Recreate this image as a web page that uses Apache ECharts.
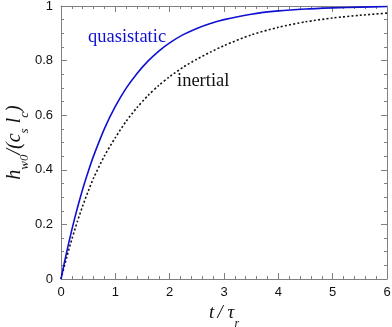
<!DOCTYPE html>
<html><head><meta charset="utf-8">
<script src="https://cdn.jsdelivr.net/npm/echarts@6/dist/echarts.min.js"></script>
<style>html,body{margin:0;padding:0;background:#fff}#c{width:392px;height:327px}</style>
</head><body><div id="c"></div>
<script>
const tValues = [0,0.1,0.2,0.3,0.4,0.5,0.6,0.8,1.0,1.2,1.4,1.6,1.8,2.0,2.25,2.5,2.75,3.0,3.5,4.0,4.5,5.0,5.5,6.0];
const quasistatic = [0,0.095,0.181,0.259,0.330,0.393,0.451,0.551,0.632,0.699,0.753,0.798,0.835,0.865,0.895,0.918,0.936,0.950,0.970,0.982,0.989,0.993,0.996,0.998];
const inertial = [0,0.076,0.146,0.210,0.268,0.321,0.370,0.451,0.518,0.578,0.628,0.672,0.709,0.741,0.776,0.805,0.831,0.855,0.894,0.922,0.942,0.956,0.966,0.974];
const xTicks = [0,1,2,3,4,5,6];
const yTicks = [0,0.2,0.4,0.6,0.8,1];

const chart = echarts.init(document.getElementById('c'), null, {renderer:'canvas'});
const axisCol = '#808080';
const grid = {left:61, right:5, top:6, bottom:48, outerBoundsMode:'none', containLabel:false};
function pair(xs, ys){ return xs.map((x,i)=>[x, ys[i]]); }
const baseX = {type:'value', min:xTicks[0], max:xTicks[xTicks.length-1], interval:1,
  axisLine:{show:true, onZero:false, lineStyle:{color:axisCol, width:1}},
  axisTick:{show:true, inside:true, length:6, lineStyle:{color:axisCol}},
  minorTick:{show:true, splitNumber:5, length:3, lineStyle:{color:axisCol}},
  splitLine:{show:false}};
const baseY = {type:'value', min:yTicks[0], max:yTicks[yTicks.length-1], interval:0.2,
  axisLine:{show:true, onZero:false, lineStyle:{color:axisCol, width:1}},
  axisTick:{show:true, inside:true, length:6, lineStyle:{color:axisCol}},
  minorTick:{show:true, splitNumber:4, length:3, lineStyle:{color:axisCol}},
  splitLine:{show:false}};
const labelFont = {color:'#111', fontSize:13, fontFamily:'Liberation Sans, Arial, sans-serif'};
chart.setOption({
  animation:false,
  grid: grid,
  xAxis:[
    Object.assign({}, baseX, {position:'bottom',
      axisLabel:Object.assign({margin:7, formatter:v=>String(v)}, labelFont),
      name:'{m|t} {m|/ τ}{s|r}', nameLocation:'middle', nameGap:21,
      nameTextStyle:{rich:{
        m:{fontFamily:'Liberation Serif, Times New Roman, serif', fontStyle:'italic', fontSize:19, color:'#111', lineHeight:20, verticalAlign:'top'},
        s:{fontFamily:'Liberation Serif, Times New Roman, serif', fontStyle:'italic', fontSize:12, color:'#111', lineHeight:20, verticalAlign:'top', padding:[14,0,0,0]}
      }}}),
    Object.assign({}, baseX, {position:'top', axisLabel:{show:false}})
  ],
  yAxis:[
    Object.assign({}, baseY, {position:'left',
      axisLabel:Object.assign({margin:8, formatter:v=>String(v)}, labelFont),
      name:'{m|h}{s|w0}{m|/(c}{s|s}{m| l}{s|c}{m|)}', nameLocation:'middle', nameGap:34, nameRotate:90,
      nameMoveOverlap:false,
      nameTextStyle:{rich:{
        m:{fontFamily:'Liberation Serif, Times New Roman, serif', fontStyle:'italic', fontSize:20, color:'#111', lineHeight:22, verticalAlign:'top'},
        s:{fontFamily:'Liberation Serif, Times New Roman, serif', fontStyle:'italic', fontSize:13, color:'#111', lineHeight:22, verticalAlign:'top', padding:[13,0,0,0]}
      }}}),
    Object.assign({}, baseY, {position:'right', axisLabel:{show:false}})
  ],
  series:[
    {type:'line', name:'quasistatic', data:pair(tValues, quasistatic), showSymbol:false, smooth:0.25,
     lineStyle:{color:'#1010d0', width:1.6}, z:3},
    {type:'line', name:'inertial', data:pair(tValues, inertial), showSymbol:false, smooth:0.25,
     lineStyle:{color:'#111', width:1.6, type:[2,2.2]}, z:2}
  ],
  graphic:[
    {type:'text', left:88, top:28, style:{text:'quasistatic', fill:'#1010d0', font:'18.5px "Liberation Serif", "Times New Roman", serif'}},
    {type:'text', left:177, top:72, style:{text:'inertial', fill:'#111', font:'18.5px "Liberation Serif", "Times New Roman", serif'}}
  ]
});
</script></body></html>
